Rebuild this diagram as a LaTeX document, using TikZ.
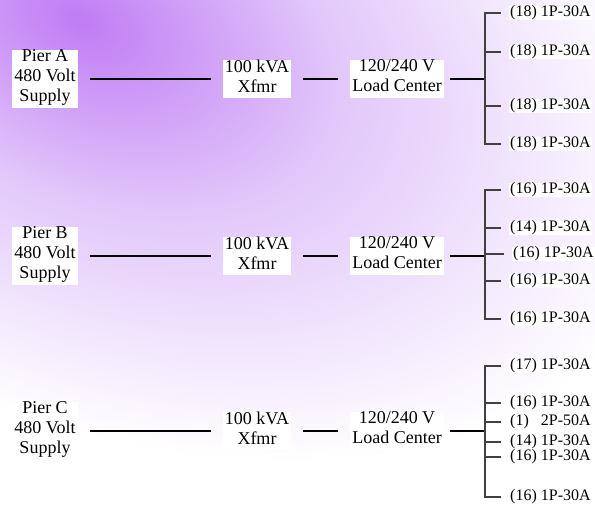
\documentclass[tikz,border=0pt]{standalone}
\usepackage{fontspec}
\setmainfont{Liberation Serif}
\usepackage{tikz}

\definecolor{glowcore}{RGB}{192,124,244}
\definecolor{glowmid}{RGB}{226,200,250}
\pgfdeclareradialshading{pierglow}{\pgfpoint{0bp}{0bp}}{color(0bp)=(glowcore); color(11bp)=(glowmid); color(25bp)=(white); color(50bp)=(white)}

\tikzset{
  block/.style={fill=white, inner xsep=2pt, inner ysep=0pt, align=center,
    font=\fontsize{18}{20}\selectfont,
    execute at begin node=\strut, execute at end node=\strut},
  tap/.style={fill=white, anchor=west, inner xsep=1pt, inner ysep=0pt,
    font=\fontsize{16}{16}\selectfont},
  feed/.style={line width=1.3pt, shorten <=12pt, shorten >=12pt},
  bus/.style={line width=1.3pt, draw=black!75, shorten <=8pt}
}

\begin{document}
\begin{tikzpicture}[x=1pt, y=-1pt]
	\useasboundingbox (0,0) rectangle (595,506);
	
	% background glow
	\begin{scope}
		\clip (0,0) rectangle (595,506);
		\fill[white] (0,0) rectangle (595,506);
		\begin{scope}[transform canvas={shift={(80,20)}, rotate=-25}]
			\shade[shading=pierglow] (0,0) ellipse (630 and 390);
		\end{scope}
	\end{scope}
	
	% pier A
	\node[block] (supA) at (45,79)  {Pier A\\480 Volt\\Supply};
	\node[block] (xfA)  at (257,79) {100 kVA\\Xfmr};
	\node[block] (lcA)  at (397,79) {120/240 V\\Load Center};
	\coordinate (busA) at (485,79);
	\node[tap] (a1) at (509,13)  {(18) 1P-30A};
	\node[tap] (a2) at (509,52)  {(18) 1P-30A};
	\node[tap] (a3) at (509,106) {(18) 1P-30A};
	\node[tap] (a4) at (509,144) {(18) 1P-30A};
	
	% pier B
	\node[block] (supB) at (45,256)  {Pier B\\480 Volt\\Supply};
	\node[block] (xfB)  at (257,256) {100 kVA\\Xfmr};
	\node[block] (lcB)  at (397,256) {120/240 V\\Load Center};
	\coordinate (busB) at (485,256);
	\node[tap] (b1) at (509,190) {(16) 1P-30A};
	\node[tap] (b2) at (509,228) {(14) 1P-30A};
	\node[tap] (b3) at (512,254) {(16) 1P-30A};
	\node[tap] (b4) at (509,281) {(16) 1P-30A};
	\node[tap] (b5) at (509,319) {(16) 1P-30A};
	
	% pier C
	\node[block] (supC) at (45,431)  {Pier C\\480 Volt\\Supply};
	\node[block] (xfC)  at (257,431) {100 kVA\\Xfmr};
	\node[block] (lcC)  at (397,431) {120/240 V\\Load Center};
	\coordinate (busC) at (485,431);
	\node[tap] (c1) at (509,366) {(17) 1P-30A};
	\node[tap] (c2) at (509,403) {(16) 1P-30A};
	\node[tap] (c3) at (509,422) {(1)\hspace{0.75em}2P-50A};
	\node[tap] (c4) at (509,442) {(14) 1P-30A};
	\node[tap] (c5) at (509,457) {(16) 1P-30A};
	\node[tap] (c6) at (509,497) {(16) 1P-30A};
	
	\path[feed] (supA) edge (xfA);
	\path[feed] (xfA) edge (lcA);
	\path[feed, shorten <=6pt, shorten >=0pt] (lcA) edge (busA);
	\path[feed] (supB) edge (xfB);
	\path[feed] (xfB) edge (lcB);
	\path[feed, shorten <=6pt, shorten >=0pt] (lcB) edge (busB);
	\path[feed] (supC) edge (xfC);
	\path[feed] (xfC) edge (lcC);
	\path[feed, shorten <=6pt, shorten >=0pt] (lcC) edge (busC);
	
	\draw[bus, shorten >=8pt] (a1.west) -| (busA) |- (a4.west);
	\draw[bus] (a2.west) -- (busA |- a2.west);
	\draw[bus] (a3.west) -- (busA |- a3.west);
	
	\draw[bus, shorten >=8pt] (b1.west) -| (busB) |- (b5.west);
	\draw[bus] (b2.west) -- (busB |- b2.west);
	\draw[bus] (b3.west) -- (busB |- b3.west);
	\draw[bus] (b4.west) -- (busB |- b4.west);
	
	\draw[bus, shorten >=8pt] (c1.west) -| (busC) |- (c6.west);
	\draw[bus] (c2.west) -- (busC |- c2.west);
	\draw[bus] (c3.west) -- (busC |- c3.west);
	\draw[bus] (c4.west) -- (busC |- c4.west);
	\draw[bus] (c5.west) -- (busC |- c5.west);
\end{tikzpicture}
\end{document}
